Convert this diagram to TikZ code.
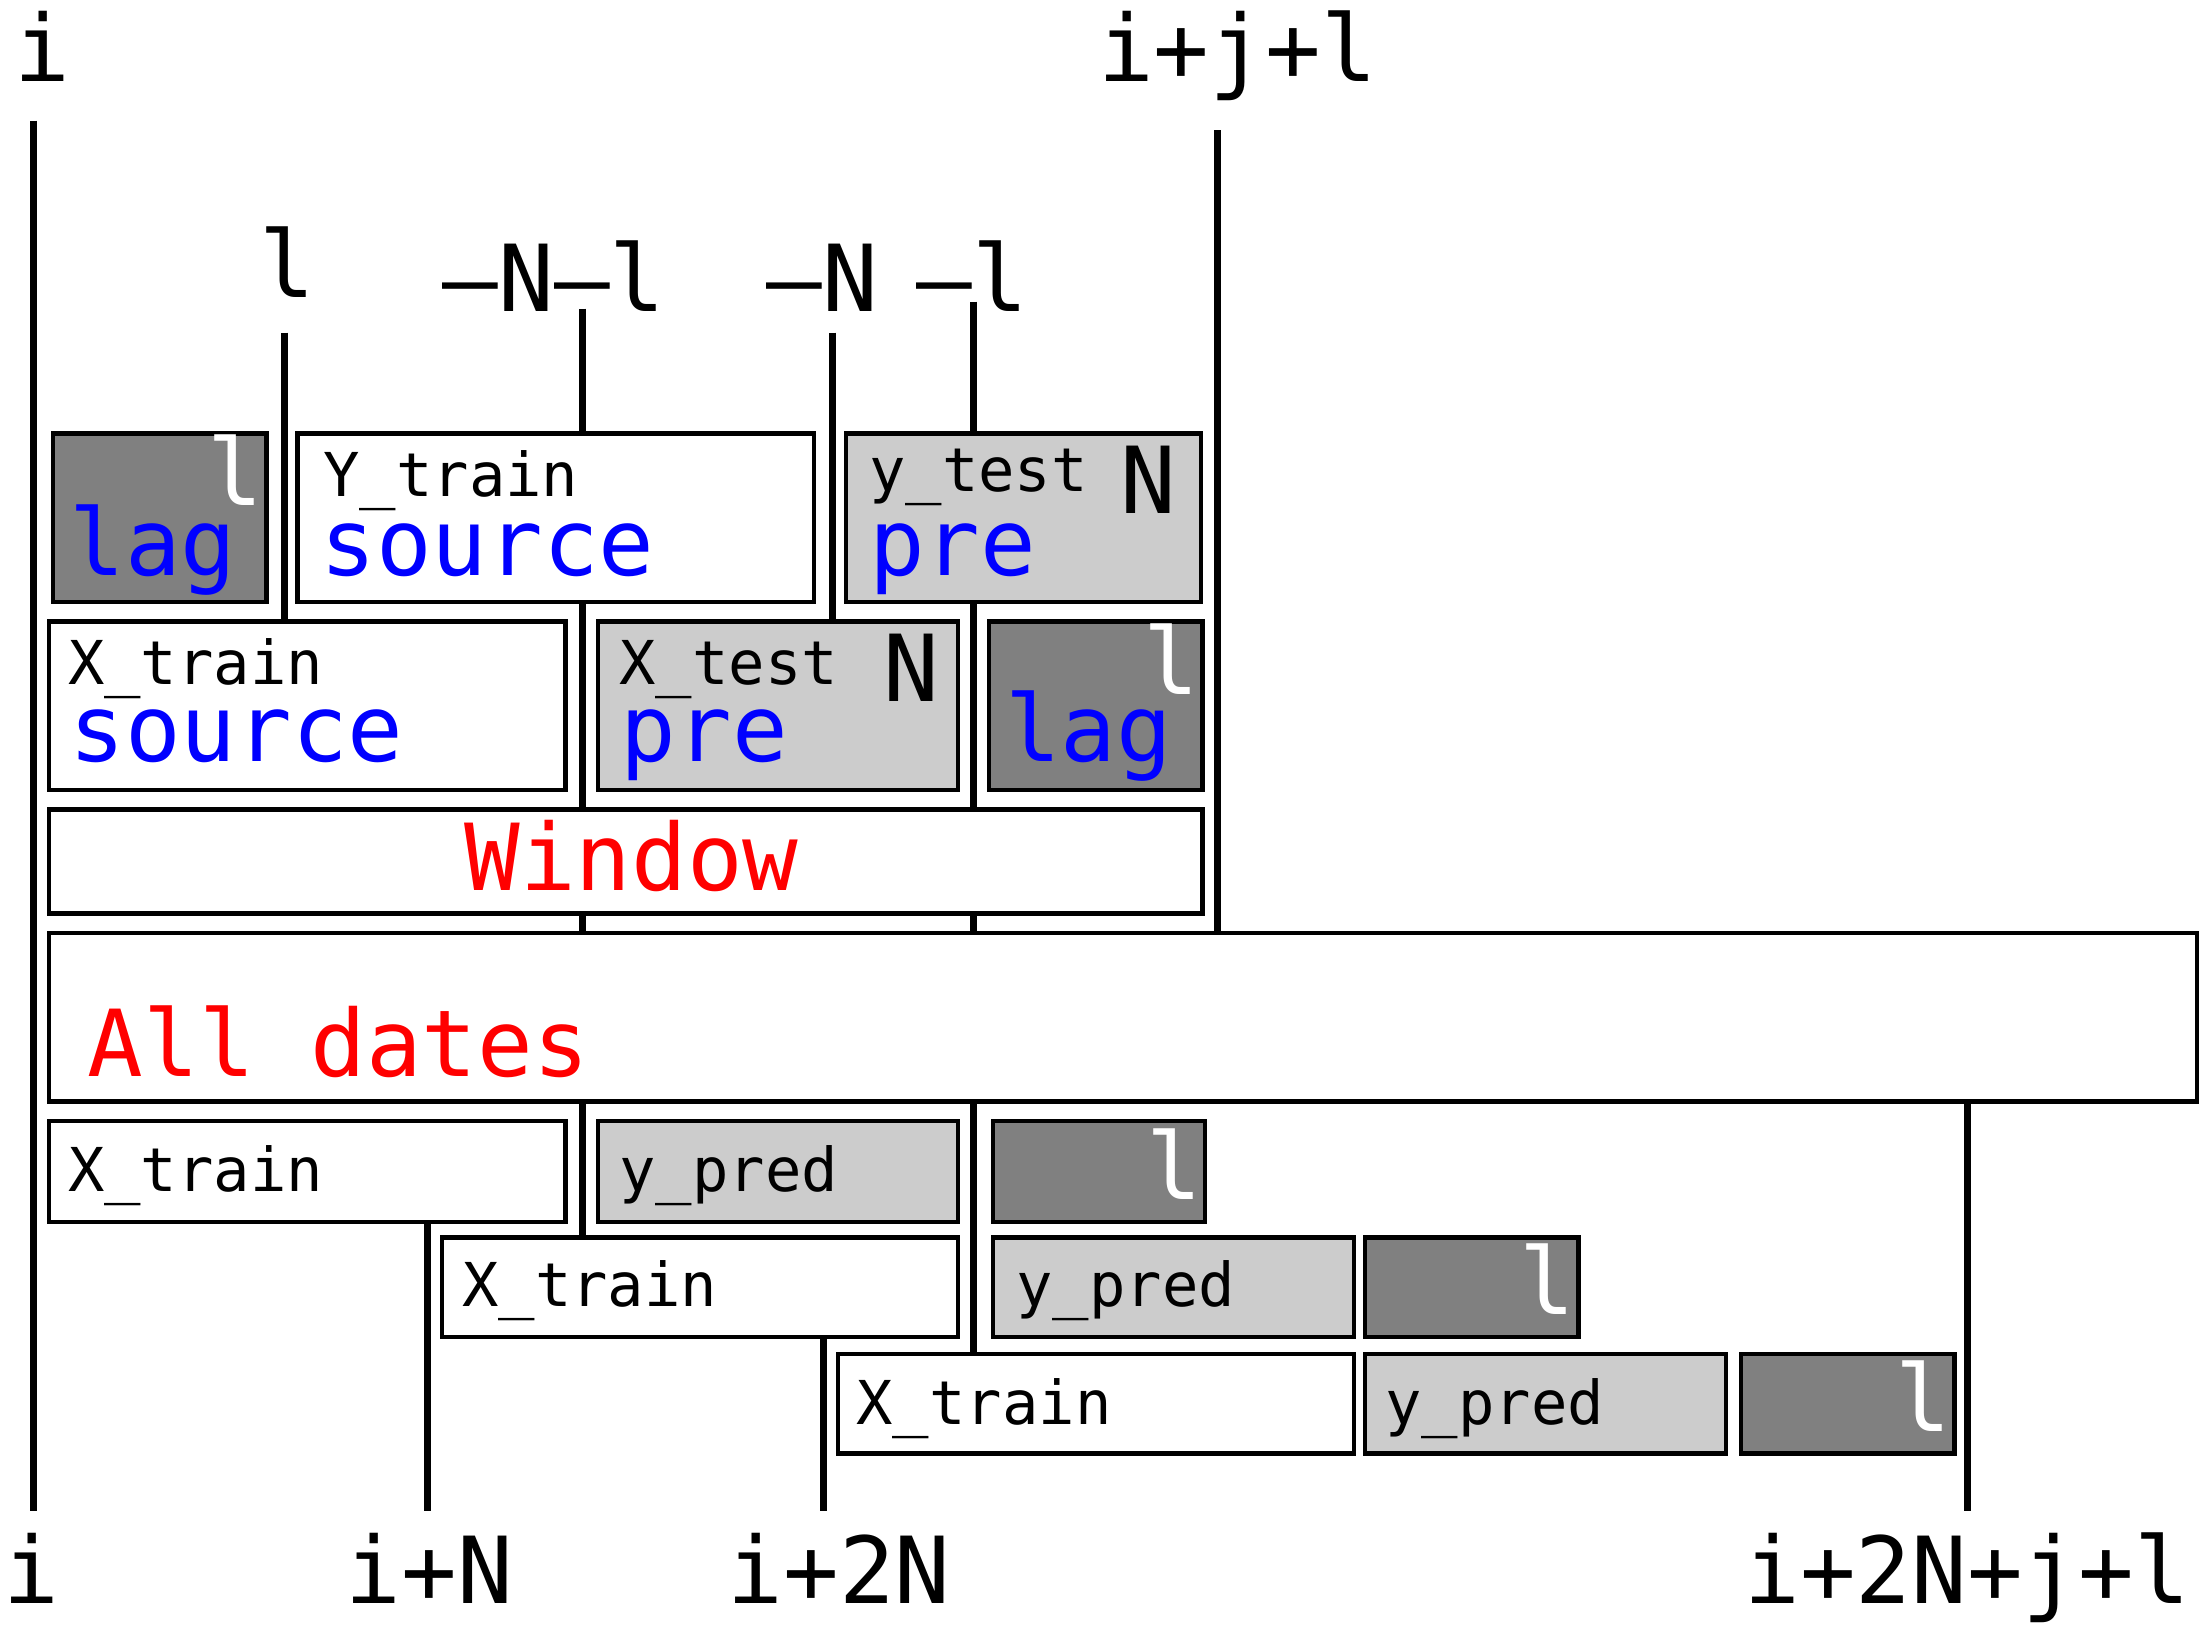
\documentclass[tikz,border=0pt]{standalone}
\usepackage{fontspec}
\setmonofont{DejaVu Sans Mono}
\usetikzlibrary{positioning}
\definecolor{lagfill}{HTML}{808080}
\definecolor{prefill}{HTML}{CCCCCC}
\definecolor{srcblue}{HTML}{0000FF}
\definecolor{winred}{HTML}{FF0000}

\tikzset{
  tick/.style={line width=2pt},
  cell/.style={draw, line width=1.2pt, fill=white},
  precell/.style={cell, fill=prefill},
  lagcell/.style={cell, fill=lagfill},
  big/.style={font=\fontsize{26.3}{30}\selectfont\ttfamily, inner sep=0pt},
  small/.style={font=\fontsize{17.2}{20}\selectfont\ttfamily, inner sep=0pt, anchor=base west},
}

\begin{document}
\begin{tikzpicture}[x=0.01403cm, y=-0.01403cm]
\useasboundingbox (0,0) rectangle (1568,1169);

% time marks
\draw[tick] (24,86) -- (24,1077);
\draw[tick] (868,93) -- (868,665);
\draw[tick] (203,237) -- (203,443);
\draw[tick] (415,220) -- (415,882);
\draw[tick] (593,237) -- (593,443);
\draw[tick] (694,215) -- (694,965);
\draw[tick] (305,871) -- (305,1077);
\draw[tick] (587,953) -- (587,1077);
\draw[tick] (1402,785) -- (1402,1077);

% train / test split
\draw[lagcell] (38,309) rectangle (190,429);
\draw[cell] (212,309) rectangle (580,429);
\draw[precell] (603,309) rectangle (856,429);
\draw[cell] (35,443) rectangle (403,563);
\draw[precell] (426,443) rectangle (683,563);
\draw[lagcell] (705,443) rectangle (857,563);
\draw[cell] (35,577) rectangle (857,651);
\draw[cell] (35,665) rectangle (1566,785);

% rolling predictions
\draw[cell] (35,799) rectangle (403,871);
\draw[precell] (426,799) rectangle (683,871);
\draw[lagcell] (708,799) rectangle (859,871);
\draw[cell] (315,882) rectangle (683,953);
\draw[precell] (708,882) rectangle (965,953);
\draw[lagcell] (973,882) rectangle (1125,953);
\draw[cell] (597,965) rectangle (965,1036);
\draw[precell] (973,965) rectangle (1230,1036);
\draw[lagcell] (1241,965) rectangle (1393,1036);

% axis labels
\node[big, anchor=base] (ti) at (30,58) {i};
\node[big, anchor=base] (tijl) at (882,58) {i+j+l};
\node[big, anchor=base] (tl) at (205,212) {l};
\node[big, anchor=base] (tnl) at (395,222) {—N—l};
\node[big, anchor=base] (tn) at (586,222) {—N};
\node[big, anchor=base] (tml) at (693,222) {—l};
\node[big, anchor=base] (bi) at (22,1143) {i};
\node[big, anchor=base] (bin) at (306,1143) {i+N};
\node[big, anchor=base] (bi2n) at (598,1143) {i+2N};
\node[big, anchor=base] (bi2njl) at (1402,1143) {i+2N+j+l};

% box texts, upper part
\node[big, anchor=base west, text=srcblue] (lag1) at (49,410) {lag};
\node[big, anchor=base east, text=white] (lagl1) at (188,360) {l};
\node[small] (ytrain) at (230,354) {Y\_train};
\node[big, anchor=base west, text=srcblue] (ysrc) at (228,410) {source};
\node[small] (ytest) at (619,350) {y\_test};
\node[big, anchor=base west] (ytestn) at (798,366) {N};
\node[big, anchor=base west, text=srcblue] (ypre) at (619,410) {pre};
\node[small] (xtrain) at (48,488) {X\_train};
\node[big, anchor=base west, text=srcblue] (xsrc) at (49,543) {source};
\node[small] (xtest) at (441,488) {X\_test};
\node[big, anchor=base west] (xtestn) at (629,500) {N};
\node[big, anchor=base west, text=srcblue] (xpre) at (442,543) {pre};
\node[big, anchor=base west, text=srcblue] (lag2) at (716,543) {lag};
\node[big, anchor=base east, text=white] (lagl2) at (855,495) {l};
\node[big, anchor=base, text=winred] (win) at (450,635) {Window};
\node[big, anchor=base west, text=winred] (all) at (62,767) {All dates};

% box texts, rolling part
\node[small] (xtr1) at (48,849) {X\_train};
\node[small] (ypr1) at (441,849) {y\_pred};
\node[big, anchor=base east, text=white] (l1) at (857,855) {l};
\node[small] (xtr2) at (329,931) {X\_train};
\node[small] (ypr2) at (724,931) {y\_pred};
\node[big, anchor=base east, text=white] (l2) at (1123,937) {l};
\node[small] (xtr3) at (610,1015) {X\_train};
\node[small] (ypr3) at (987,1015) {y\_pred};
\node[big, anchor=base east, text=white] (l3) at (1391,1020) {l};
\end{tikzpicture}
\end{document}
